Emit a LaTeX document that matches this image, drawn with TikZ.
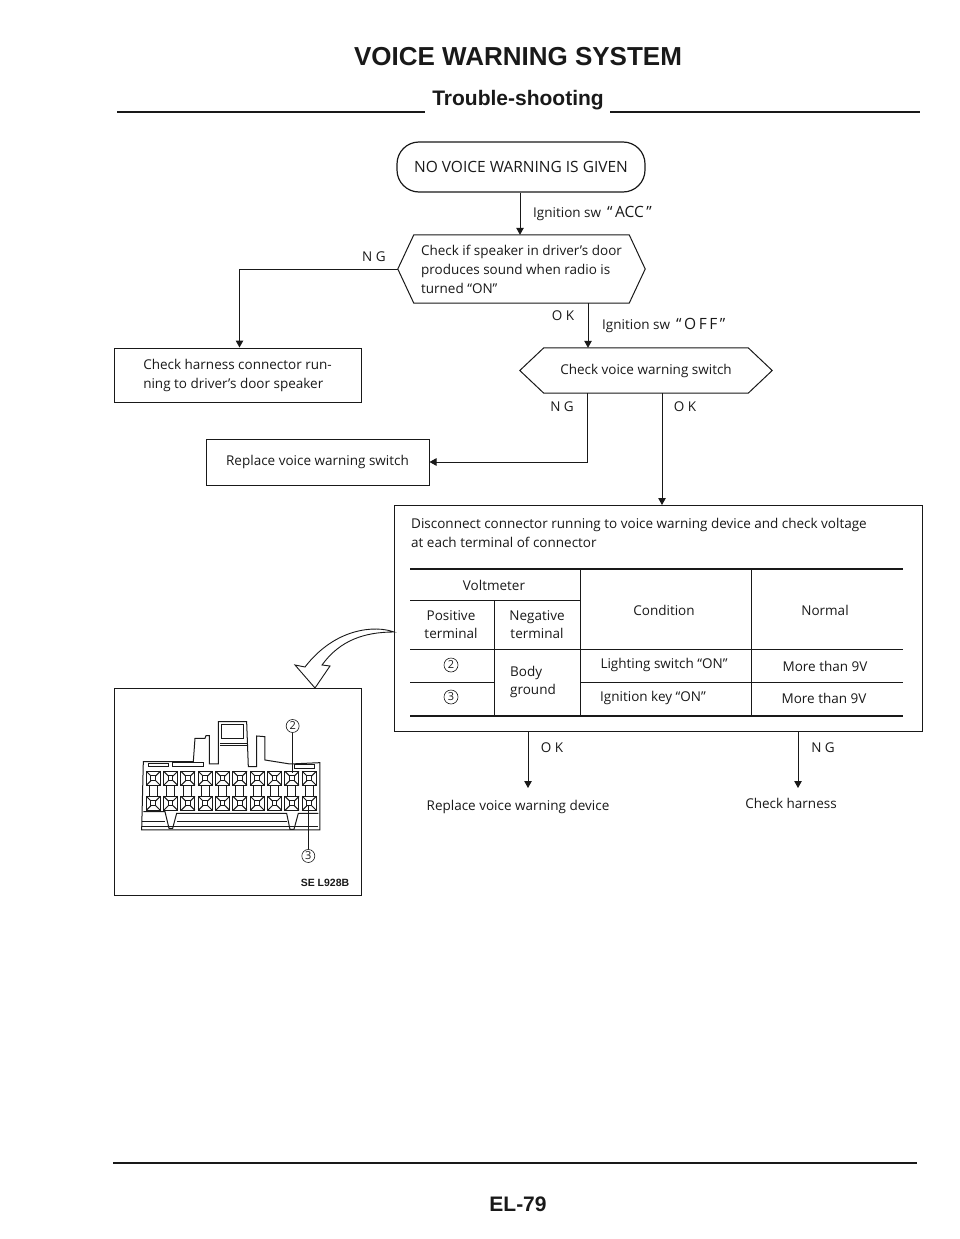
\documentclass[tikz,border=0pt]{standalone}
\usepackage{fontspec}
\setmainfont{Open Sans}
\newfontfamily\headfont{Liberation Sans}
\usetikzlibrary{arrows.meta,positioning}
\definecolor{ink}{rgb}{.1,.1,.1}
\def\Vws{voice warning}
% six sided outline round a node, #2 is the length of the slanted part
\def\hexline#1#2{\draw[ink,line width=1pt] ([xshift=#2]#1.north west)--([xshift=-#2]#1.north east)--(#1.east)--([xshift=-#2]#1.south east)--([xshift=#2]#1.south west)--(#1.west)--cycle;}
\def\Quoted#1{{\fontsize{15.5}{15}\selectfont``\,#1\,''}}

\begin{document}
\begin{tikzpicture}[x=1pt,y=-1pt,% pixel coordinates, y runs downward
			every node/.style={
				align=center,  		% use this so that the "\\" for line break works
				inner sep=0pt,
				text=ink,
				font=\fontsize{13.5}{19}\selectfont
			},
			>={Triangle[length=7pt,width=7.5pt]},
			plainbox/.style={rectangle,draw=ink,line width=1pt},
			flow/.style={->,ink,line width=1pt},
			tag/.style={font=\fontsize{13.5}{15}\selectfont},
			cell/.style={font=\fontsize{13.5}{18}\selectfont},
			circnum/.style={circle,draw=ink,semithick,minimum size=14pt,font=\fontsize{11}{11}\selectfont}
		]
		\useasboundingbox (0,0) rectangle (960,1239);
		% heading
		\node[font=\headfont\bfseries\fontsize{26}{28}\selectfont](Title) at (518,57){VOICE WARNING SYSTEM};
		\node[font=\headfont\bfseries\fontsize{21}{24}\selectfont](Sub) at (518,100){Trouble-shooting};
		\coordinate (RuleA) at (117,112);
		\coordinate (RuleB) at (425,112);
		\coordinate (RuleC) at (610,112);
		\coordinate (RuleD) at (920,112);
		\draw[line width=1.2pt,ink] (RuleA)--(RuleB) (RuleC)--(RuleD);
		% flow chart
		\node[rectangle,rounded corners=22pt,draw=ink,line width=1.2pt,minimum width=248pt,minimum height=50pt,font=\fontsize{15.5}{18}\selectfont](Start) at (521,167){NO VOICE WARNING IS GIVEN};
		\node[rectangle,minimum width=247pt,minimum height=68pt,align=left](Spk) at (521.5,269){Check if speaker in driver's door\\produces sound when radio is\\turned ``ON''};
		\hexline{Spk}{16pt}
		\node[plainbox,minimum width=247pt,minimum height=54pt,align=left](Harn) at (237.5,375){Check harness connector run-\\ning to driver's door speaker\hspace*{3pt}};
		\node[rectangle,minimum width=252pt,minimum height=45pt](Sw) at (646,370.5){Check \Vws{} switch};
		\hexline{Sw}{24pt}
		\node[plainbox,minimum width=223pt,minimum height=46pt](Rep) at (317.5,462){Replace \Vws{} switch};
		\node[plainbox,minimum width=528pt,minimum height=226pt](Disc) at (658,618.5){};
		\node[anchor=north west,align=left](DiscText) at (411,518){Disconnect connector running to voice warning device and check voltage\\at each terminal of connector};
		% table
		\draw[ink,line width=1.2pt] (410,569)--(903,569) (410,716)--(903,716);
		\draw[ink,line width=.9pt] (410,600)--(580,600) (410,649)--(903,649) (410,682)--(494,682) (580,682)--(903,682);
		\draw[ink,line width=.9pt] (580,569)--(580,716) (751,569)--(751,716) (494,600)--(494,716);
		\node[cell](Volt) at (494,585){Voltmeter};
		\node[cell](Pos) at (451,625){Positive\\terminal};
		\node[cell](Neg) at (537,625){Negative\\terminal};
		\node[cell](Cond) at (664,610){Condition};
		\node[cell](Norm) at (825,610){Normal};
		\node[circnum](Two) at (451,665){2};
		\node[circnum](Three) at (451,697){3};
		\node[cell,align=left](Body) at (533,682){Body\\ground};
		\node[cell](Light) at (664,665){Lighting switch ``ON''};
		\node[cell](Key) at (653,698){Ignition key ``ON''};
		\node[cell](MoreA) at (825,666){More than 9V};
		\node[cell](MoreB) at (824,698){More than 9V};
		% ends of the chart
		\node(EndA) at (518,807){Replace voice warning device};
		\node(EndB) at (791,803){Check harness};
		\coordinate (ToA) at (528,788);
		\coordinate (ToB) at (798,788);
		% labels of the connectors
		\node[tag](LblAcc)[anchor=west] at (533,214){Ignition sw\hspace{6pt}\Quoted{ACC}};
		\node[tag](LblNgA) at (374,257){N G};
		\node[tag](LblOkA) at (563,316){O K};
		\node[tag](LblOff)[anchor=west] at (602,325){Ignition sw\hspace{6pt}\Quoted{O\,F\,F}};
		\node[tag](LblNgB) at (562,407){N G};
		\node[tag](LblOkB) at (685,407){O K};
		\node[tag](LblOkC) at (552,748){O K};
		\node[tag](LblNgC) at (823,748){N G};
		\draw[flow] ([xshift=-1pt]Start.south)--([xshift=-1.5pt]Spk.north);
		\draw[flow] (Spk.west)-|([xshift=2pt]Harn.north);
		\draw[flow] ([xshift=66.5pt]Spk.south)--([xshift=-58pt]Sw.north);
		\draw[flow] ([xshift=-59pt]Sw.south)|-(Rep.east);
		\draw[flow] ([xshift=16pt]Sw.south)--([xshift=4pt]Disc.north);
		\draw[flow] (Disc.south -| ToA)--(ToA);
		\draw[flow] (Disc.south -| ToB)--(ToB);
		% connector view
		\node[plainbox,minimum width=247pt,minimum height=207pt](View) at (237.5,791.5){};
		\draw[ink,line width=.9pt,fill=white] (394,632) .. controls (375,625) and (335,628) .. (305,667)--(295,665)--(315,688)--(330,666)--(322,665) .. controls (340,640) and (365,632) .. (394,632)--cycle;
		\begin{scope}[shift={(100,640)},x=0.3333pt,y=-0.3333pt,ink,line width=1pt]
			\draw (130,365)--(280,365)--(285,295)--(315,295)--(318,287)--(328,287)--(328,372)--(355,372)--(355,245)--(440,245)--(445,380)--(470,380)--(470,288)--(495,290)--(495,360)--(570,372)--(660,368)--(660,570)--(125,570)--cycle;
			\draw (365,255) rectangle (430,295) (360,310)--(445,310) (360,318)--(445,318);
			\draw (145,370) rectangle (205,380) (218,368) rectangle (310,380) (585,375) rectangle (645,385);
			\draw (125,560)--(655,560) (125,545)--(195,545) (230,545)--(560,545);
			\draw (130,515)--(195,515)--(207,565)--(218,565)--(230,520)--(560,520)--(570,568)--(582,568)--(595,520)--(655,520);
			\foreach \col in {0,...,9}{
				\pgfmathsetmacro{\cx}{160+52*\col}
				\draw (\cx-12,437)--(\cx-12,468) (\cx+12,437)--(\cx+12,468);
				\foreach \cy in {415,490}{
					\draw[fill=white] (\cx-21,\cy-21) rectangle (\cx+21,\cy+21);
					\draw (\cx-7,\cy-7) rectangle (\cx+7,\cy+7);
					\draw (\cx-21,\cy-21)--(\cx-7,\cy-7) (\cx+21,\cy-21)--(\cx+7,\cy-7) (\cx-21,\cy+21)--(\cx-7,\cy+7) (\cx+21,\cy+21)--(\cx+7,\cy+7);
				}
			}
			\node[circnum,minimum size=13pt](PinTwo) at (578,258){2};
			\node[circnum,minimum size=13pt](PinThree) at (625,648){3};
			\coordinate (SlotTwo) at (578,400);
			\coordinate (SlotThree) at (625,495);
			\draw (PinTwo)--(SlotTwo) (PinThree)--(SlotThree);
		\end{scope}
		\node[font=\headfont\bfseries\fontsize{10.5}{12}\selectfont](Code) at (325,882.5){SE L928B};
		% foot of the page
		\coordinate (FootA) at (113,1163);
		\coordinate (FootB) at (917,1163);
		\draw[line width=2pt,ink] (FootA)--(FootB);
		\node[font=\headfont\bfseries\fontsize{21}{24}\selectfont](Page) at (518,1204){EL-79};
	\end{tikzpicture}
\end{document}
